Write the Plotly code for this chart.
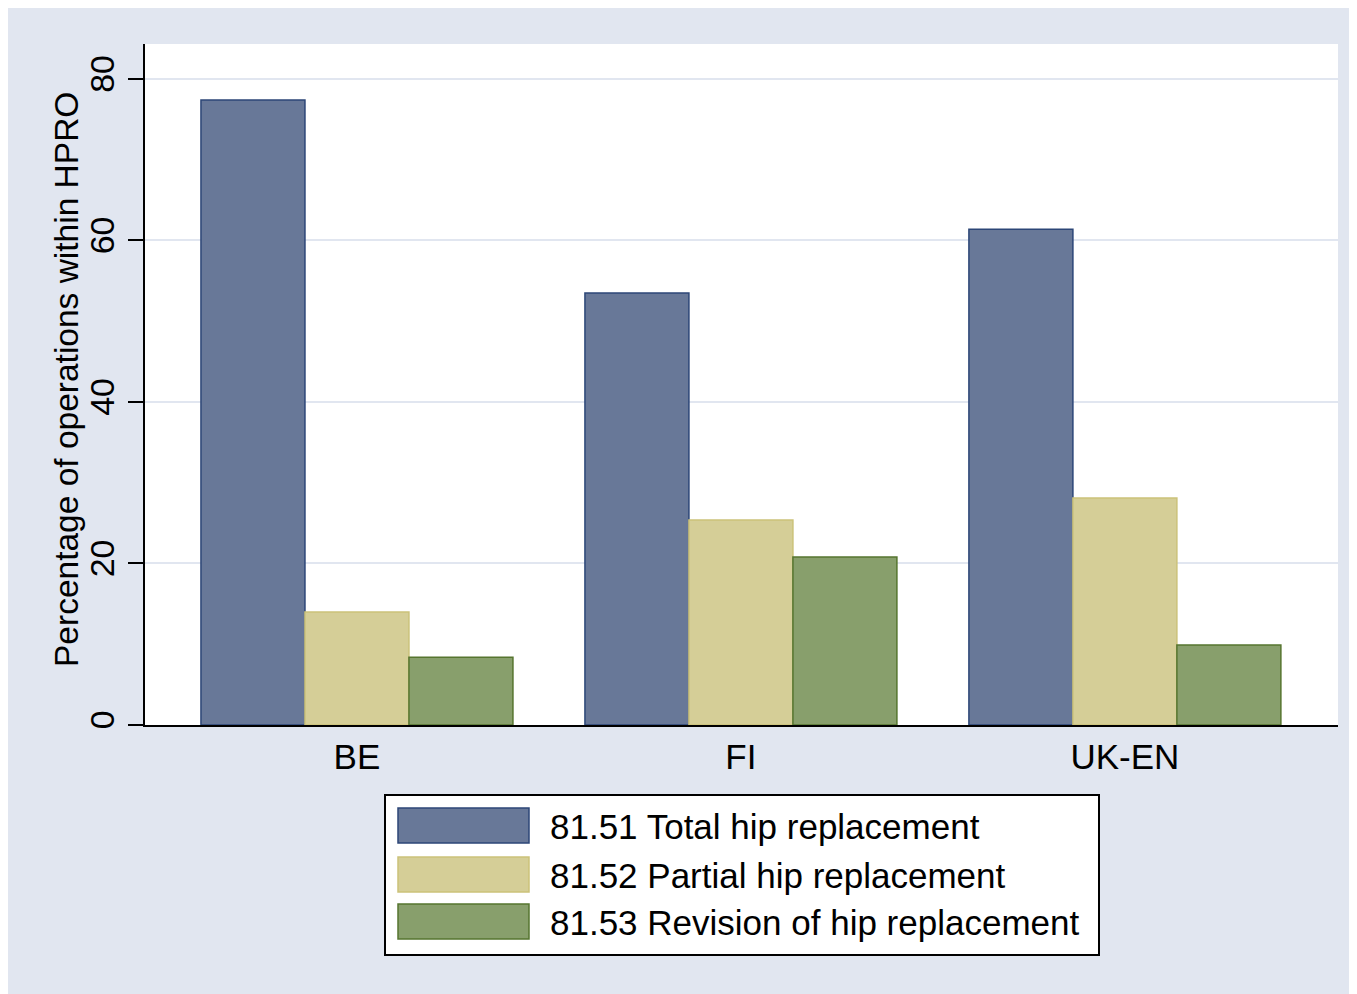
import plotly.graph_objects as go

categories = ["BE", "FI", "UK-EN"]
series_names = [
    "81.51 Total hip replacement",
    "81.52 Partial hip replacement",
    "81.53 Revision of hip replacement",
]
total_hip = [77.4, 53.5, 61.4]
partial_hip = [14.0, 25.4, 28.1]
revision_hip = [8.4, 20.8, 9.9]
y_ticks = [0, 20, 40, 60, 80]

fills = ["#687898", "#d5ce97", "#889f6c"]
edges = ["#2c4677", "#cbc27a", "#56752f"]

W, H = 1372, 994
OFF = 8  # page margin of the html body
# plot area in screenshot pixels
L, R, T, B = 145, 1338, 44, 725
FONT = "Liberation Sans, Arial, sans-serif"


def px(x):
    return (x - L) / (R - L)


def py(y):
    return (B - y) / (B - T)


fig = go.Figure()
xs = list(range(len(categories)))
for name, vals, fc, ec in zip(series_names, [total_hip, partial_hip, revision_hip], fills, edges):
    fig.add_trace(go.Bar(
        x=xs, y=vals, name=name,
        marker=dict(color=fc, line=dict(color=ec, width=1.5)),
        showlegend=False,
    ))

shapes = []
annotations = []
# legend box
shapes.append(dict(type="rect", xref="paper", yref="paper", x0=px(385), x1=px(1099), y0=py(955), y1=py(795),
                   fillcolor="white", line=dict(color="black", width=2), layer="above"))
row_tops = [808, 857, 904]
for i, (name, fc, ec) in enumerate(zip(series_names, fills, edges)):
    t = row_tops[i]
    shapes.append(dict(type="rect", xref="paper", yref="paper", x0=px(398), x1=px(529), y0=py(t + 35), y1=py(t),
                       fillcolor=fc, line=dict(color=ec, width=1.5), layer="above"))
    annotations.append(dict(xref="paper", yref="paper", x=px(548), y=py(t + 18), text=name, showarrow=False,
                            xanchor="left", yanchor="middle",
                            font=dict(size=35, color="black", family=FONT)))

# y-axis title
annotations.append(dict(xref="paper", yref="paper", x=px(67), y=py(380),
                        text="Percentage of operations within HPRO", showarrow=False,
                        textangle=-90, xanchor="center", yanchor="middle",
                        font=dict(size=33.5, color="black", family=FONT)))

fig.update_layout(
    width=W, height=H,
    margin=dict(l=L - OFF, r=W - (R - OFF), t=T - OFF, b=H - (B - OFF), pad=0),
    paper_bgcolor="#e1e6f0",
    plot_bgcolor="white",
    barmode="group",
    bargap=0.1875,
    bargroupgap=0,
    font=dict(family=FONT, size=34, color="black"),
    shapes=shapes,
    annotations=annotations,
    xaxis=dict(
        range=[-0.552, 2.555],
        tickvals=xs, ticktext=categories,
        showline=True, linecolor="black", linewidth=2,
        ticks="", showgrid=False, zeroline=False,
        tickfont=dict(size=35),
    ),
    yaxis=dict(
        range=[0, 84.33],
        tickvals=y_ticks,
        tickangle=-90,
        showline=True, linecolor="black", linewidth=2,
        ticks="outside", ticklen=15, tickwidth=2, tickcolor="black",
        showgrid=True, gridcolor="#e1e6f0", gridwidth=2,
        zeroline=False,
        tickfont=dict(size=34),
    ),
)

fig.write_html("out.html")
